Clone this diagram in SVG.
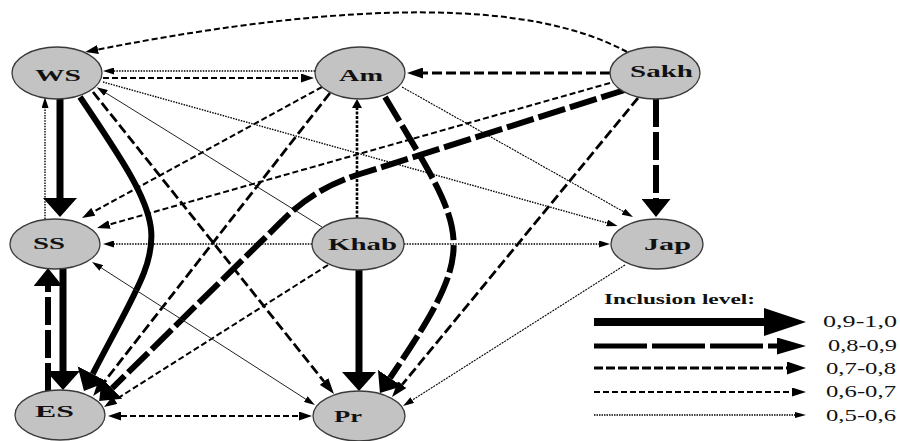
<svg xmlns="http://www.w3.org/2000/svg" width="900" height="441" viewBox="0 0 900 441">
<style>
.node ellipse{fill:#c3c3c3;stroke:#3a3a3a;stroke-width:1.3}
.node text{font-family:"Liberation Serif","Times New Roman",serif;font-weight:bold;font-size:17px;fill:#111}
.e{fill:none;stroke:#000}
.A{stroke-width:7}
.Ac{stroke-width:6}
.B{stroke-width:6;stroke-dasharray:28 5}
.C{stroke-width:2.8;stroke-dasharray:10 4}
.D{stroke-width:2;stroke-dasharray:6 3}
.E{stroke-width:1.4;stroke-dasharray:1.5 1.2}
.K{stroke-width:2.6;stroke-dasharray:3 1.5}
.T{stroke-width:1;stroke:#222}
.T2{stroke-width:1.1;stroke-dasharray:2 1}
.lg text{font-family:"Liberation Serif","Times New Roman",serif;font-size:16px;fill:#111}
.lg .title{font-weight:bold;font-size:15px}
.L1{stroke-width:8}
.L2{stroke-width:5;stroke-dasharray:53 5}
.L3{stroke-width:3;stroke-dasharray:9 3}
.L4{stroke-width:2;stroke-dasharray:6 3}
.L5{stroke-width:1.3;stroke-dasharray:1.5 1}
marker path{fill:#000}
</style>
<defs>
<marker id="mA" markerUnits="userSpaceOnUse" orient="auto-start-reverse" viewBox="0 -17 19 34" markerWidth="19" markerHeight="34" refX="0" refY="0"><path d="M0,-17 L19,0 L0,17 z"/></marker>
<marker id="mB" markerUnits="userSpaceOnUse" orient="auto-start-reverse" viewBox="0 -14.5 18 29" markerWidth="18" markerHeight="29" refX="0" refY="0"><path d="M0,-14.5 L18,0 L0,14.5 z"/></marker>
<marker id="mC" markerUnits="userSpaceOnUse" orient="auto-start-reverse" viewBox="0 -5.5 16 11" markerWidth="16" markerHeight="11" refX="0" refY="0"><path d="M0,-5.5 L16,0 L0,5.5 z"/></marker>
<marker id="mD" markerUnits="userSpaceOnUse" orient="auto-start-reverse" viewBox="0 -4.5 13 9" markerWidth="13" markerHeight="9" refX="0" refY="0"><path d="M0,-4.5 L13,0 L0,4.5 z"/></marker>
<marker id="mE" markerUnits="userSpaceOnUse" orient="auto-start-reverse" viewBox="0 -3.5 11 7" markerWidth="11" markerHeight="7" refX="0" refY="0"><path d="M0,-3.5 L11,0 L0,3.5 z"/></marker>
<marker id="mK" markerUnits="userSpaceOnUse" orient="auto-start-reverse" viewBox="0 -5 9 10" markerWidth="9" markerHeight="10" refX="0" refY="0"><path d="M0,-5 L9,0 L0,5 z"/></marker>
<marker id="mL1" markerUnits="userSpaceOnUse" orient="auto" viewBox="0 -14 42 28" markerWidth="42" markerHeight="28" refX="0" refY="0"><path d="M0,-14 L42,0 L0,14 z"/></marker>
<marker id="mL2" markerUnits="userSpaceOnUse" orient="auto" viewBox="0 -8.5 29 17" markerWidth="29" markerHeight="17" refX="0" refY="0"><path d="M0,-8.5 L29,0 L0,8.5 z"/></marker>
<marker id="mL3" markerUnits="userSpaceOnUse" orient="auto" viewBox="0 -6.5 19 13" markerWidth="19" markerHeight="13" refX="0" refY="0"><path d="M0,-6.5 L19,0 L0,6.5 z"/></marker>
<marker id="mL4" markerUnits="userSpaceOnUse" orient="auto" viewBox="0 -4.5 14 9" markerWidth="14" markerHeight="9" refX="0" refY="0"><path d="M0,-4.5 L14,0 L0,4.5 z"/></marker>
<marker id="mL5" markerUnits="userSpaceOnUse" orient="auto" viewBox="0 -3 11 6" markerWidth="11" markerHeight="6" refX="0" refY="0"><path d="M0,-3 L11,0 L0,3 z"/></marker>
</defs>
<rect width="900" height="441" fill="#fff"/>
<g id="connectors">
<path id="sakh-ws" class="e D" d="M627,52 Q484,-26 98,49.5" marker-end="url(#mD)"/>
<path id="am-ws" class="e E" d="M315,71 L114,71" marker-end="url(#mE)"/>
<path id="ws-am" class="e D" d="M103,78 L301,78" marker-end="url(#mD)"/>
<path id="sakh-am" class="e C" d="M610,73 L423,73" marker-end="url(#mC)"/>
<path id="ws-ss" class="e A" d="M60,99 L60,198" marker-end="url(#mA)"/>
<path id="ss-ws" class="e E" d="M45,219 L45,108" marker-end="url(#mE)"/>
<path id="ws-es" class="e Ac" d="M80,97 C180,245 166.3,231.6 92.7,374" marker-end="url(#mA)"/>
<path id="ws-pr" class="e C" d="M93,92 L324,381.5" marker-end="url(#mC)"/>
<path id="khab-ws" class="e T" d="M322,227 L106,93" marker-end="url(#mE)"/>
<path id="ws-jap" class="e E" d="M103,82 L607,223" marker-end="url(#mE)"/>
<path id="am-ss" class="e D" d="M322,87 L93.4,211.8" marker-end="url(#mD)"/>
<path id="am-es" class="e C" d="M330,93 L103,383.4" marker-end="url(#mC)"/>
<path id="am-pr" class="e B" d="M385,97 C469,238 482,242 390,378" marker-end="url(#mB)"/>
<path id="am-jap" class="e T2" d="M402,87 L623.4,211.6" marker-end="url(#mE)"/>
<path id="khab-am" class="e K" d="M357,218 L357,108" marker-end="url(#mK)"/>
<path id="sakh-ss" class="e D" d="M610,83 L109.5,224.5" marker-end="url(#mD)"/>
<path id="sakh-es" class="e B" d="M628,89 L360,174 Q314,188 282,221 L112,388.4" marker-end="url(#mB)"/>
<path id="sakh-jap" class="e B" d="M656,99 L656,199" marker-end="url(#mB)"/>
<path id="sakh-pr" class="e C" d="M638,98 L402.2,384.6" marker-end="url(#mC)"/>
<path id="khab-ss" class="e E" d="M312,244 L114,244" marker-end="url(#mE)"/>
<path id="khab-jap" class="e E" d="M404,244 L599,244" marker-end="url(#mE)"/>
<path id="khab-es" class="e D" d="M328,265 L115,400" marker-end="url(#mD)"/>
<path id="khab-pr" class="e A" d="M359,270 L359,372" marker-end="url(#mA)"/>
<path id="ss-pr" class="e T" d="M101.3,267.9 L305.7,399.1" marker-start="url(#mE)" marker-end="url(#mE)"/>
<path id="ss-es" class="e A" d="M63,269 L63,371" marker-end="url(#mA)"/>
<path id="es-ss" class="e B" d="M48,391 L48,286" marker-end="url(#mB)"/>
<path id="es-pr" class="e D" d="M121,416 L299,416" marker-start="url(#mD)" marker-end="url(#mD)"/>
<path id="jap-pr" class="e T2" d="M625,265 L412.3,400.1" marker-end="url(#mE)"/>
</g>
<g id="WS" class="node"><ellipse cx="57" cy="73" rx="45" ry="26"/><text x="35" y="81" textLength="46" lengthAdjust="spacingAndGlyphs">WS</text></g>
<g id="Am" class="node"><ellipse cx="360" cy="73" rx="45" ry="26"/><text x="339" y="81" textLength="44" lengthAdjust="spacingAndGlyphs">Am</text></g>
<g id="Sakh" class="node"><ellipse cx="655" cy="73" rx="45" ry="26"/><text x="630" y="77" textLength="63" lengthAdjust="spacingAndGlyphs">Sakh</text></g>
<g id="SS" class="node"><ellipse cx="55" cy="244" rx="45" ry="25"/><text x="33" y="249" textLength="32" lengthAdjust="spacingAndGlyphs">SS</text></g>
<g id="Khab" class="node"><ellipse cx="358" cy="244" rx="46" ry="26"/><text x="328" y="250" textLength="69" lengthAdjust="spacingAndGlyphs">Khab</text></g>
<g id="Jap" class="node"><ellipse cx="657" cy="244" rx="46" ry="25"/><text x="644" y="250" textLength="47" lengthAdjust="spacingAndGlyphs">Jap</text></g>
<g id="ES" class="node"><ellipse cx="60" cy="415" rx="45" ry="25"/><text x="35" y="417" textLength="39" lengthAdjust="spacingAndGlyphs">ES</text></g>
<g id="Pr" class="node"><ellipse cx="359" cy="416" rx="46" ry="25"/><text x="334" y="422" textLength="28" lengthAdjust="spacingAndGlyphs">Pr</text></g>
<g id="legend" class="lg">
<text class="title" x="604" y="304" textLength="151" lengthAdjust="spacingAndGlyphs">Inclusion level:</text>
<path class="e L1" d="M594,322 L764,322" marker-end="url(#mL1)"/>
<path class="e L2" d="M594,346 L777,346" marker-end="url(#mL2)"/>
<path class="e L3" d="M594,368 L787,368" marker-end="url(#mL3)"/>
<path class="e L4" d="M594,392 L792,392" marker-end="url(#mL4)"/>
<path class="e L5" d="M594,415 L795,415" marker-end="url(#mL5)"/>
<text x="823" y="327" textLength="74" lengthAdjust="spacingAndGlyphs">0,9-1,0</text>
<text x="828" y="351" textLength="69" lengthAdjust="spacingAndGlyphs">0,8-0,9</text>
<text x="826" y="374" textLength="70" lengthAdjust="spacingAndGlyphs">0,7-0,8</text>
<text x="826" y="397" textLength="70" lengthAdjust="spacingAndGlyphs">0,6-0,7</text>
<text x="826" y="421" textLength="70" lengthAdjust="spacingAndGlyphs">0,5-0,6</text>
</g>
</svg>
